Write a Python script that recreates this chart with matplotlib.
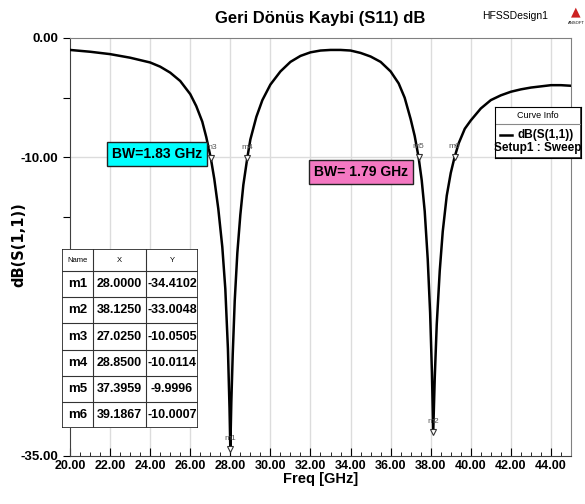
import matplotlib
matplotlib.use('Agg')
import matplotlib.pyplot as plt
from matplotlib.patches import Rectangle
from matplotlib.ticker import MultipleLocator

plt.rcParams['font.family'] = ['Liberation Sans', 'DejaVu Sans']

# dB(S(1,1)) sweep, frequency in GHz
freq = [20.0, 21.0, 22.0, 23.0, 24.0, 24.5, 25.0, 25.5, 26.0, 26.3, 26.6, 26.8,
        27.025, 27.2, 27.4, 27.6, 27.75, 27.88, 27.96, 28.0, 28.05, 28.12, 28.22,
        28.35, 28.5, 28.65, 28.85, 29.0, 29.3, 29.6, 30.0, 30.5, 31.0, 31.5, 32.0,
        32.5, 33.0, 33.5, 34.0, 34.5, 35.0, 35.5, 36.0, 36.4, 36.7, 37.0, 37.2,
        37.3959, 37.55, 37.7, 37.85, 37.97, 38.06, 38.125, 38.2, 38.3, 38.45, 38.6,
        38.8, 39.0, 39.1867, 39.4, 39.7, 40.0, 40.5, 41.0, 41.5, 42.0, 42.5, 43.0,
        43.5, 44.0, 44.5, 45.0]
s11 = [-1.0, -1.15, -1.35, -1.65, -2.05, -2.4, -2.9, -3.6, -4.7, -5.7, -7.0, -8.3,
       -10.0505, -11.8, -14.3, -17.5, -21.0, -26.0, -31.0, -34.4102, -30.5, -26.5, -22.0,
       -18.0, -14.8, -12.3, -10.0114, -8.5, -6.6, -5.2, -3.9, -2.8, -2.0, -1.5, -1.2,
       -1.05, -1.0, -1.0, -1.05, -1.25, -1.55, -2.0, -2.8, -3.8, -5.0, -6.8, -8.2,
       -9.9996, -11.9, -14.5, -18.5, -23.0, -28.0, -33.0048, -28.5, -24.0, -19.5, -16.2,
       -13.2, -11.3, -10.0007, -8.8, -7.6, -6.9, -5.9, -5.2, -4.8, -4.5, -4.3, -4.15,
       -4.05, -3.95, -3.95, -4.0]

marker_names = ['m1', 'm2', 'm3', 'm4', 'm5', 'm6']
marker_x = [28.0, 38.125, 27.025, 28.85, 37.3959, 39.1867]
marker_y = [-34.4102, -33.0048, -10.0505, -10.0114, -9.9996, -10.0007]

fig = plt.figure(figsize=(5.85, 5.04), dpi=100)
ax = fig.add_axes([70 / 585, 1 - 456 / 504, 501 / 585, 418 / 504])

ax.plot(freq, s11, color='black', lw=1.8, zorder=3)
ax.set_xlim(20, 45)
ax.set_ylim(-35, 0)

ax.xaxis.set_minor_locator(MultipleLocator(0.5))
ax.set_xticks(range(20, 45, 2))
ax.set_xticklabels(['%.2f' % v for v in range(20, 45, 2)], fontweight='bold', fontsize=9)
ax.set_yticks([0, -5, -10, -15, -20, -25, -30, -35])
ax.set_yticklabels(['0.00', '', '-10.00', '', '', '', '', '-35.00'], fontweight='bold', fontsize=9.5)
ax.tick_params(axis='x', direction='in', length=6, pad=3)
ax.tick_params(axis='x', which='minor', direction='in', length=3)
ax.tick_params(axis='y', direction='out', length=5)
for v in range(22, 45, 2):
    ax.axvline(v, color='#dcdcdc', lw=1, zorder=0)
ax.axhline(-10, color='#dcdcdc', lw=1, zorder=0)
for side in ['top', 'right']:
    ax.spines[side].set_color('#808080')
for side in ['left', 'bottom']:
    ax.spines[side].set_color('#404040')

ax.set_xlabel('Freq [GHz]', fontweight='bold', fontsize=10.5, labelpad=0)
fig.text(19 / 585, 1 - 245 / 504, 'dB(S(1,1))', rotation=90, ha='center', va='center',
         fontweight='bold', fontsize=10.5, family='DejaVu Sans')
ax.set_title('Geri Dönüs Kaybi (S11) dB', fontweight='bold', fontsize=12, pad=11)

# marker flags
for name, mx, my in zip(marker_names, marker_x, marker_y):
    ax.plot(mx, my, marker='v', ms=5, mfc='white', mec='#333333', mew=0.8, zorder=4)
    ax.annotate(name, (mx, my), xytext=(0, 5), textcoords='offset points',
                ha='center', va='bottom', fontsize=6, color='#555555', zorder=5)

ax.text(24.34, -9.7, 'BW=1.83 GHz', ha='center', va='center', fontsize=10,
        fontweight='bold', zorder=6,
        bbox=dict(boxstyle='square,pad=0.35', fc='#00ffff', ec='#222222', lw=1))
ax.text(34.52, -11.2, 'BW= 1.79 GHz', ha='center', va='center', fontsize=10,
        fontweight='bold', zorder=6,
        bbox=dict(boxstyle='square,pad=0.35', fc='#f478c2', ec='#222222', lw=1))

fig.text(515 / 585, 1 - 16 / 504, 'HFSSDesign1', ha='center', va='center', fontsize=7.5)
fig.text(576 / 585, 1 - 12 / 504, '▲', ha='center', va='center', fontsize=9, color='#cc2222',
         family='DejaVu Sans')
fig.text(576 / 585, 1 - 23 / 504, 'ANSOFT', ha='center', va='center', fontsize=3)

# curve info box
lg = fig.add_axes([495 / 585, 1 - 158 / 504, 86 / 585, 51 / 504])
lg.set_xlim(0, 86)
lg.set_ylim(51, 0)
lg.set_xticks([])
lg.set_yticks([])
lg.add_patch(Rectangle((0, 0), 86, 51, fc='white', ec='#222222', lw=1.2))
lg.plot([0, 86], [17, 17], color='#888888', lw=0.8)
lg.text(43, 9, 'Curve Info', ha='center', va='center', fontsize=6.5)
lg.plot([5, 17], [28, 28], color='black', lw=1.8)
lg.text(51, 28, 'dB(S(1,1))', ha='center', va='center', fontsize=8.5, fontweight='bold')
lg.text(43, 41, 'Setup1 : Sweep', ha='center', va='center', fontsize=8.5, fontweight='bold')

# marker table
tb = fig.add_axes([62 / 585, 1 - 428 / 504, 136 / 585, 179 / 504])
tb.set_xlim(0, 136)
tb.set_ylim(179, 0)
tb.set_xticks([])
tb.set_yticks([])
for s in tb.spines.values():
    s.set_visible(False)
tb.add_patch(Rectangle((0, 0), 136, 179, fc='white', ec='#222222', lw=1.2))
col_x = [0, 31, 84, 136]
row_y = [0, 22] + [22 + 26.2 * (i + 1) for i in range(6)]
for cx in col_x[1:-1]:
    tb.plot([cx, cx], [0, 179], color='#333333', lw=0.8)
for ry in row_y[1:-1]:
    tb.plot([0, 136], [ry, ry], color='#333333', lw=0.8)
for txt, c0, c1 in zip(['Name', 'X', 'Y'], col_x[:-1], col_x[1:]):
    tb.text((c0 + c1) / 2, 11, txt, ha='center', va='center', fontsize=5.5)
for i, (name, mx, my) in enumerate(zip(marker_names, marker_x, marker_y)):
    yc = (row_y[i + 1] + row_y[i + 2]) / 2
    tb.text(15.5, yc, name, ha='center', va='center', fontsize=9.5, fontweight='bold')
    tb.text(57.5, yc, '%.4f' % mx, ha='center', va='center', fontsize=9, fontweight='bold')
    tb.text(110, yc, '%.4f' % my, ha='center', va='center', fontsize=9, fontweight='bold')

fig.savefig('out.png', dpi=100)
